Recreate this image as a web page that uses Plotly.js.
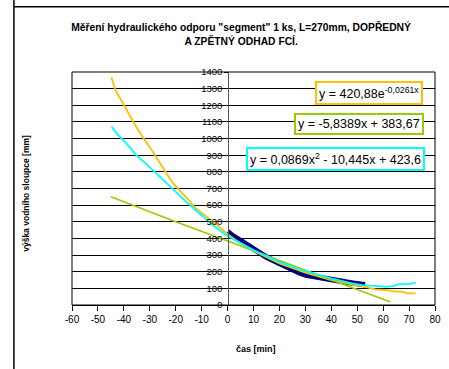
<!DOCTYPE html>
<html><head><meta charset="utf-8">
<script src="https://cdn.plot.ly/plotly-3.0.1.min.js"></script>
<style>html,body{margin:0;padding:0;background:#fff}#c{width:449px;height:369px}</style>
</head><body><div id="c"></div>
<script>
// measured data (navy)
const dataX = [0, 2, 5.8, 9.7, 12.2, 14.8, 19.9, 25.1, 27.6, 30.2, 34, 37, 39.8, 41.7, 45.5, 49, 51.9, 53];
const dataY = [440, 415, 380, 340, 311, 290, 250, 210, 194, 180, 168, 158, 150, 142, 138, 130, 126, 122];
// estimate - exponential (orange)
const expX = [-44.8, -43.3, -40.3, -36.4, -32.8, -28.7, -23.7, -21.2, -18.6, -15.4, -12.8, -9, -4.5, -0.6, 5, 10, 20, 30, 40, 50, 52, 57, 61, 64.8, 67.3, 69.2, 72.5];
const expY = [1368, 1292, 1212, 1101, 1011, 918, 795, 735, 690, 638, 588, 542, 487, 433, 370, 325, 250, 194, 150, 116, 113, 94, 90, 80, 80, 70, 70];
// linear (green)
const linX = [-45, -20, 0, 30, 62.8];
const linY = [650, 500, 385, 208, 18];
// quadratic (cyan)
const quadX = [-44.8, -42.3, -39.1, -35.2, -31.4, -28.2, -26.3, -21, -16, -10.9, -5.8, -0.6, 5, 10, 20, 30, 40, 48, 52, 55.8, 60.9, 64.1, 66, 69.9, 72.5];
const quadY = [1072, 1022, 972, 901, 848, 801, 771, 691, 621, 551, 481, 421, 375, 330, 258, 203, 160, 130, 120, 114, 110, 114, 126, 126, 134];

const xTicks = [-60, -50, -40, -30, -20, -10, 0, 10, 20, 30, 40, 50, 60, 70, 80];
const yTicks = [0, 100, 200, 300, 400, 500, 600, 700, 800, 900, 1000, 1100, 1200, 1300, 1400];

const F = 'Liberation Sans, Arial, sans-serif';
const traces = [
  {x: dataX, y: dataY, mode: 'lines', line: {color: '#000080', width: 5.5}, hoverinfo: 'none'},
  {x: expX, y: expY, mode: 'lines', line: {color: '#FFC000', width: 1.8}, hoverinfo: 'none'},
  {x: linX, y: linY, mode: 'lines', line: {color: '#99CC00', width: 1.6}, hoverinfo: 'none'},
  {x: quadX, y: quadY, mode: 'lines', line: {color: '#00FFFF', width: 1.8}, hoverinfo: 'none'}
];

const layout = {
  width: 449, height: 369,
  margin: {l: 72, r: 14, t: 72, b: 64},
  paper_bgcolor: '#fff', plot_bgcolor: '#fff',
  showlegend: false,
  font: {family: F, color: '#000', size: 10},
  title: {text: '<b>Měření hydraulického odporu "segment" 1 ks, L=270mm, DOPŘEDNÝ<br>A ZPĚTNÝ ODHAD FCÍ.</b>',
          font: {family: F, size: 10.3, color: '#000'}, x: 0.537, xanchor: 'center', y: 0.915, yanchor: 'top'},
  xaxis: {range: [-60, 80], tickvals: xTicks, ticktext: xTicks.map(String), showgrid: false, zeroline: false,
          showline: true, linecolor: '#000', linewidth: 1, ticks: 'outside', ticklen: 5, tickcolor: '#000',
          tickfont: {family: F, size: 10, color: '#000'}, fixedrange: true},
  yaxis: {range: [0, 1400], tickvals: yTicks, ticktext: yTicks.map(String), showgrid: true, gridcolor: '#000', gridwidth: 1,
          zeroline: false, showline: true, linecolor: '#555', linewidth: 1, ticks: 'outside', ticklen: 4, tickcolor: '#000',
          anchor: 'free', position: 0.4306, tickfont: {family: F, size: 9.5, color: '#000'}, fixedrange: true},
  shapes: [
    {type: 'rect', xref: 'paper', yref: 'paper', x0: 0, x1: 1, y0: 0, y1: 1, line: {color: '#000', width: 1}},
    {type: 'line', xref: 'paper', yref: 'paper', x0: -0.160, x1: -0.160, y0: -0.3, y1: 1.5, line: {color: '#000', width: 1.5}},
    {type: 'line', xref: 'paper', yref: 'paper', x0: -0.160, x1: 1.1, y0: 1.28, y1: 1.28, line: {color: '#000', width: 1.5}}
  ],
  annotations: [
    {text: 'y = 420,88e<sup>-0,0261x</sup>', x: 54.5, y: 1274, xref: 'x', yref: 'y', showarrow: false,
     font: {family: F, size: 12.5, color: '#000'}, bgcolor: '#fff', bordercolor: '#FFC000', borderwidth: 2, borderpad: 2},
    {text: 'y = -5,8389x + 383,67', x: 50.8, y: 1085, xref: 'x', yref: 'y', showarrow: false,
     font: {family: F, size: 12.5, color: '#000'}, bgcolor: '#fff', bordercolor: '#99CC00', borderwidth: 2, borderpad: 2},
    {text: 'y = 0,0869x<sup>2</sup> - 10,445x + 423,6', x: 41.8, y: 880, xref: 'x', yref: 'y', showarrow: false,
     font: {family: F, size: 12.5, color: '#000'}, bgcolor: '#fff', bordercolor: '#00FFFF', borderwidth: 2, borderpad: 2},
    {text: '<b>čas [min]</b>', x: 0.507, y: -0.19, xref: 'paper', yref: 'paper', xanchor: 'center', yanchor: 'middle',
     showarrow: false, font: {family: F, size: 9, color: '#000'}},
    {text: '<b>výška vodního sloupce [mm]</b>', x: -0.125, y: 0.48, xref: 'paper', yref: 'paper', xanchor: 'center', yanchor: 'middle',
     textangle: -90, showarrow: false, font: {family: F, size: 8.5, color: '#000'}}
  ]
};
Plotly.newPlot('c', traces, layout, {staticPlot: true, displayModeBar: false});
</script></body></html>
